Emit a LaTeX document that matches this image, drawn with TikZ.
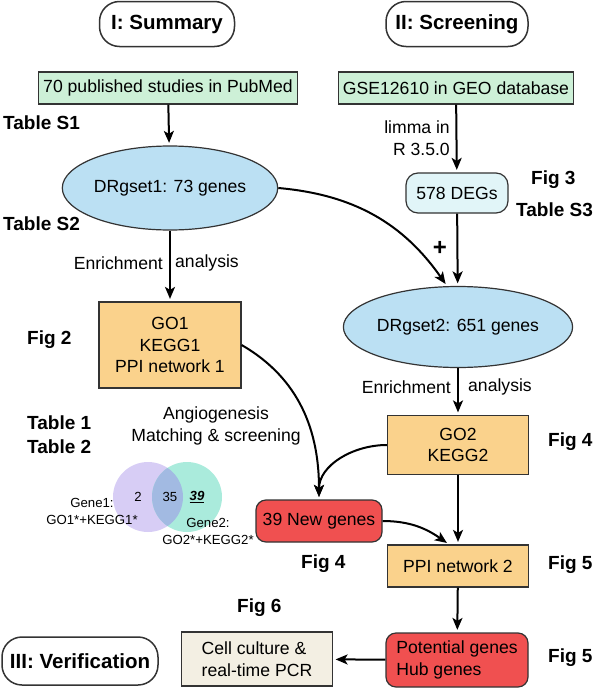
\documentclass[tikz,border=0pt]{standalone}
\usepackage{fontspec}
\setmainfont{Liberation Sans}
\usetikzlibrary{arrows.meta, shapes.geometric}
\definecolor{srcgreen}{RGB}{205,240,215}
\definecolor{setblue}{RGB}{187,224,243}
\definecolor{boxorange}{RGB}{250,210,140}
\definecolor{genered}{RGB}{240,80,80}
\definecolor{degcyan}{RGB}{225,245,248}
\definecolor{cellbeige}{RGB}{243,239,227}
\definecolor{vennleft}{RGB}{215,205,245}
\definecolor{vennright}{RGB}{170,235,220}
\definecolor{vennmid}{RGB}{162,186,226}
\newcommand{\txtfont}{\fontsize{17.6}{21.7}\selectfont}
\newcommand{\labfont}{\fontsize{19}{24}\selectfont\bfseries}
\newcommand{\ttlfont}{\fontsize{20.5}{24}\selectfont\bfseries}
\newcommand{\vennfont}{\fontsize{13.2}{17}\selectfont}

\begin{document}
\begin{tikzpicture}[x=1pt, y=-1pt,
    box/.style={draw=black!80, line width=1.2pt, inner sep=0pt, font=\txtfont, align=center},
    stage/.style={box, line width=1.5pt, rounded corners=20pt, font=\ttlfont},
    geneset/.style={box, ellipse, fill=setblue},
    lab/.style={font=\labfont, inner sep=0pt, anchor=west},
    note/.style={font=\txtfont, inner sep=0pt},
    arr/.style={line width=2pt, shorten >=2.5pt, -{Stealth[length=12pt, width=10pt, inset=3pt]}}]

        \useasboundingbox (0,0) rectangle (596,688);

        % stage titles
        \node[stage, minimum width=135, minimum height=45] (summary) at (167,24) {I: Summary};
        \node[stage, minimum width=142, minimum height=45] (screening) at (457,24) {II: Screening};
        \node[stage, minimum width=156, minimum height=48] (verification) at (80,661) {III: Verification};

        % left column
        \node[box, fill=srcgreen, minimum width=259, minimum height=32] (pubmed) at (168,88) {70 published studies in PubMed};
        \node[geneset, minimum width=185, minimum height=84] (drset1) at (170,188) {DRgset1: 73 genes};
        \node[box, fill=boxorange, minimum width=142, minimum height=86] (go1) at (170,345) {GO1\\KEGG1\\PPI network 1};

        % right column
        \node[box, fill=srcgreen, minimum width=235, minimum height=32] (geo) at (456,88) {GSE12610 in GEO database};
        \node[box, fill=degcyan, rounded corners=12pt, minimum width=102, minimum height=40] (degs) at (457,193) {578 DEGs};
        \node[geneset, minimum width=183, minimum height=81] (drset2) at (458,327) {DRgset2: 651 genes};
        \node[box, fill=boxorange, minimum width=141, minimum height=59] (go2) at (458,445) {GO2\\KEGG2};
        \node[box, fill=genered, rounded corners=10pt, minimum width=126, minimum height=42] (newgenes) at (319,521) {39 New genes};
        \node[box, fill=boxorange, minimum width=141, minimum height=42] (ppi2) at (458,566) {PPI network 2};
        \node[box, fill=genered, rounded corners=10pt, align=left, minimum width=142, minimum height=54] (hub) at (457,660) {Potential genes\\Hub genes};
        \node[box, fill=cellbeige, align=left, minimum width=151, minimum height=54] (cell) at (257,659) {Cell culture \&\\real-time PCR};

        % figure and table references
        \node[lab] (tabS1) at (3,123) {Table S1};
        \node[lab] (tabS2) at (3,224) {Table S2};
        \node[lab] (fig2) at (27,340) {Fig 2};
        \node[lab] (tab1) at (27,423) {Table 1};
        \node[lab] (tab2) at (27,447) {Table 2};
        \node[lab] (fig3) at (531,180) {Fig 3};
        \node[lab] (tabS3) at (516,210) {Table S3};
        \node[lab] (fig4r) at (548,442) {Fig 4};
        \node[lab] (fig4l) at (301,564) {Fig 4};
        \node[lab] (fig5a) at (548,565) {Fig 5};
        \node[lab] (fig5b) at (548,658) {Fig 5};
        \node[lab] (fig6) at (237,608) {Fig 6};

        % venn diagram
        \fill[vennleft] (148,497) circle (35pt);
        \fill[vennright] (187,497) circle (35pt);
        \begin{scope}
            \clip (148,497) circle (35pt);
            \fill[vennmid] (187,497) circle (35pt);
        \end{scope}
        \node[font=\vennfont, inner sep=0pt] (only1) at (138,497) {2};
        \node[font=\vennfont, inner sep=0pt] (both) at (170,497) {35};
        \node[font=\vennfont, inner sep=0pt] (only2) at (197,497) {\underline{\textbf{\textit{39}}}};
        \node[font=\vennfont, inner sep=0pt, align=center] (gene1) at (92,511) {Gene1:\\GO1*+KEGG1*};
        \node[font=\vennfont, inner sep=0pt, align=center] (gene2) at (208,531) {Gene2:\\GO2*+KEGG2*};

        % edge texts
        \node[note, align=center] (angio) at (216,426) {Angiogenesis\\Matching \& screening};
        \node[note, align=right, anchor=east] (limma) at (450,138) {limma in\\R 3.5.0};
        \node[note, anchor=east] (enr1a) at (163,263) {Enrichment};
        \node[note, anchor=west] (enr1b) at (175,263) {analysis};
        \node[note, anchor=east] (enr2a) at (451,387) {Enrichment};
        \node[note, anchor=west] (enr2b) at (468,387) {analysis};
        \node[font=\fontsize{24}{24}\selectfont\bfseries, inner sep=0pt] (plus) at (440,248) {+};

        % connectors
        \draw[arr] (pubmed) -- (drset1);
        \draw[arr] (drset1) -- (go1);
        \draw[arr] (geo) -- (degs);
        \draw[arr] (degs) -- (drset2);
        \draw[arr] (drset1.east) to[out=-5, in=125] (drset2.105);
        \draw[arr] (drset2) -- (go2);
        \draw[arr] (go1.east) to[out=-30, in=90] (newgenes.north);
        \draw[arr] (go2.west) to[out=180, in=90] (newgenes.north);
        \draw[arr] (go2) -- (ppi2);
        \draw[arr] (newgenes.east) to[out=0, in=145] ([xshift=-9pt]ppi2.north);
        \draw[arr] (ppi2) -- (hub);
        \draw[arr] (hub) -- (cell);

    \end{tikzpicture}
\end{document}
